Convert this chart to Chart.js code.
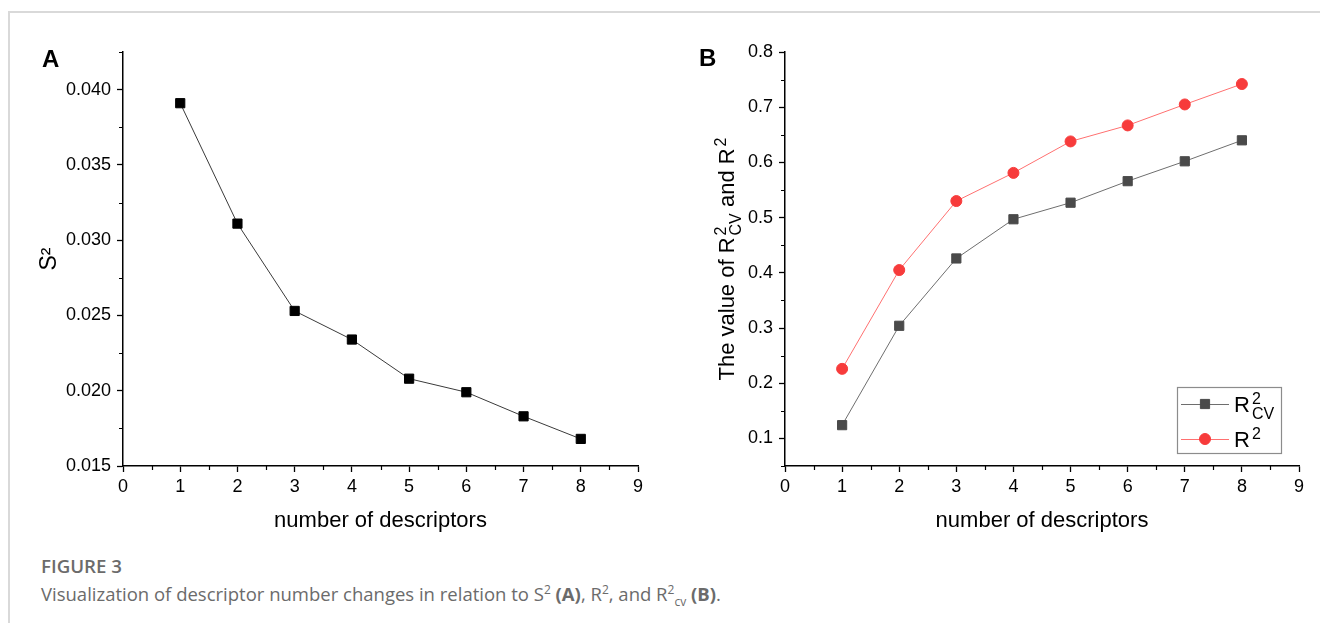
<!DOCTYPE html>
<html>
<head>
<meta charset="utf-8">
<script src="https://cdn.jsdelivr.net/npm/chart.js@4.4.1/dist/chart.umd.min.js"></script>
<style>
  html, body { margin: 0; padding: 0; background: #fff; }
  body { width: 1320px; height: 623px; overflow: hidden; position: relative; }
  #frame { position: absolute; left: 8px; top: 11px; width: 1330px; height: 640px;
           border-top: 2px solid #d9d9d9; border-left: 2px solid #d9d9d9; }
  .wrap { position: absolute; top: 0; width: 660px; height: 545px; }
  #wrapA { left: 0; }
  #wrapB { left: 660px; }
  #cap1 { position: absolute; left: 41px; top: 553px; font: 600 18.7px "Open Sans", sans-serif;
          color: #6b6b6b; white-space: nowrap; }
  #cap2 { position: absolute; left: 41px; top: 581px; font: 400 18.5px "Open Sans", sans-serif;
          color: #6b6b6b; white-space: nowrap; }
  #cap2 b { font-weight: 700; }
  #cap2 sup, #cap2 sub { font-size: 12px; line-height: 0; }
</style>
</head>
<body>
<div id="frame"></div>
<div class="wrap" id="wrapA"><canvas id="chartA" width="660" height="545"></canvas></div>
<div class="wrap" id="wrapB"><canvas id="chartB" width="660" height="545"></canvas></div>
<div id="cap1">FIGURE 3</div>
<div id="cap2">Visualization of descriptor number changes in relation to S<sup>2</sup> <b>(A)</b>, R<sup>2</sup>, and R<sup>2</sup><sub>cv</sub> <b>(B)</b>.</div>

<script>
// ---------------- data ----------------
const descriptorCounts = [1, 2, 3, 4, 5, 6, 7, 8];
const s2Values = [0.0391, 0.0311, 0.0253, 0.0234, 0.0208, 0.0199, 0.0183, 0.0168];
const r2cvValues = [0.124, 0.304, 0.426, 0.497, 0.527, 0.566, 0.602, 0.640];
const r2Values = [0.226, 0.405, 0.530, 0.581, 0.638, 0.667, 0.705, 0.742];
const seriesNames = ['R²CV', 'R²'];
const xTitle = 'number of descriptors';
const yTitleA = 'S²';
const panelLabels = ['A', 'B'];

// ---------------- helpers ----------------
const FONT = '"Liberation Sans", Arial, sans-serif';

function pts(xs, ys) { return xs.map((x, i) => ({ x: x, y: ys[i] })); }

function richWidth(ctx, parts, size, small) {
  let w = 0;
  parts.forEach(p => {
    if (p.t !== undefined) { ctx.font = size + 'px ' + FONT; w += ctx.measureText(p.t).width; }
    else {
      ctx.font = small + 'px ' + FONT;
      const a = p.sup ? ctx.measureText(p.sup).width : 0;
      const b = p.sub ? ctx.measureText(p.sub).width : 0;
      w += Math.max(a, b) + 2;
    }
  });
  return w;
}
function drawRich(ctx, parts, x, y, size, small) {
  let cx = x;
  parts.forEach(p => {
    if (p.t !== undefined) {
      ctx.font = size + 'px ' + FONT;
      ctx.fillText(p.t, cx, y);
      cx += ctx.measureText(p.t).width;
    } else {
      ctx.font = small + 'px ' + FONT;
      let a = 0, b = 0;
      if (p.sup) { ctx.fillText(p.sup, cx + 2, y - size * 0.38); a = ctx.measureText(p.sup).width + 2; }
      if (p.sub) { ctx.fillText(p.sub, cx + 2, y + size * 0.32); b = ctx.measureText(p.sub).width + 2; }
      cx += Math.max(a, b);
    }
  });
}
function richParts(name) {
  const m = name.match(/^([^²]*)²(.*)$/);
  if (!m) return [{ t: name }];
  const parts = [{ t: m[1] }];
  parts.push(m[2] ? { sup: '2', sub: m[2] } : { sup: '2' });
  return parts;
}

const minorTicks = {
  id: 'minorTicks',
  afterDraw(chart) {
    const ctx = chart.ctx;
    ctx.save();
    ctx.strokeStyle = '#000';
    ctx.lineWidth = 1.2;
    ['x', 'y'].forEach(id => {
      const s = chart.scales[id];
      const vals = s.ticks.map(t => t.value);
      if (vals.length < 2) return;
      const step = vals[1] - vals[0];
      const minors = [];
      for (let i = 0; i < vals.length - 1; i++) minors.push((vals[i] + vals[i + 1]) / 2);
      const lo = vals[0] - step / 2, hi = vals[vals.length - 1] + step / 2;
      const eps = step * 1e-6;
      if (lo >= s.min - eps) minors.push(lo);
      if (hi <= s.max + eps) minors.push(hi);
      ctx.beginPath();
      minors.forEach(v => {
        const p = Math.round(s.getPixelForValue(v)) + 0.5;
        if (id === 'x') { ctx.moveTo(p, s.top); ctx.lineTo(p, s.top + 4); }
        else { ctx.moveTo(s.right, p); ctx.lineTo(s.right - 4, p); }
      });
      ctx.stroke();
    });
    ctx.restore();
  }
};

const panelLabel = {
  id: 'panelLabel',
  afterDraw(chart, args, opts) {
    const ctx = chart.ctx;
    ctx.save();
    ctx.fillStyle = '#000';
    ctx.font = 'bold 24px ' + FONT;
    ctx.textBaseline = 'alphabetic';
    ctx.fillText(opts.text, opts.x, opts.y);
    ctx.restore();
  }
};

const richYTitle = {
  id: 'richYTitle',
  afterDraw(chart, args, opts) {
    if (!opts.parts) return;
    const ctx = chart.ctx;
    ctx.save();
    ctx.fillStyle = '#000';
    ctx.textBaseline = 'alphabetic';
    const ca = chart.chartArea;
    const cy = (ca.top + ca.bottom) / 2;
    const w = richWidth(ctx, opts.parts, opts.size, opts.small);
    ctx.translate(opts.x, cy);
    ctx.rotate(-Math.PI / 2);
    drawRich(ctx, opts.parts, -w / 2, opts.size * 0.36, opts.size, opts.small);
    ctx.restore();
  }
};

const richLegend = {
  id: 'richLegend',
  afterDraw(chart, args, opts) {
    if (!opts.display) return;
    const ctx = chart.ctx;
    ctx.save();
    const { left, top, width, height, rowGap, lineLen, size, small } = opts;
    ctx.strokeStyle = '#8c8c8c';
    ctx.lineWidth = 1.2;
    ctx.strokeRect(left + 0.5, top + 0.5, width, height);
    chart.data.datasets.forEach((ds, i) => {
      const y = top + opts.firstRow + i * rowGap;
      const x0 = left + 4;
      ctx.strokeStyle = ds.borderColor;
      ctx.lineWidth = ds.borderWidth;
      ctx.beginPath();
      ctx.moveTo(x0, y + 0.5); ctx.lineTo(x0 + lineLen, y + 0.5); ctx.stroke();
      ctx.fillStyle = ds.pointBackgroundColor;
      ctx.strokeStyle = ds.pointBorderColor;
      Chart.helpers.drawPoint(ctx, {
        pointStyle: ds.pointStyle, radius: ds.pointRadius, rotation: 0, borderWidth: 1
      }, x0 + lineLen / 2, y);
      ctx.fillStyle = '#000';
      ctx.textBaseline = 'alphabetic';
      drawRich(ctx, richParts(ds.label), x0 + lineLen + 5, y + size * 0.36, size, small);
    });
    ctx.restore();
  }
};

function axisCommon() {
  return {
    grid: { display: true, drawOnChartArea: false, drawTicks: true, tickLength: 6,
            tickColor: '#000', tickWidth: 1.3 },
    border: { display: true, color: '#000', width: 1.5 }
  };
}

function makeChart(canvasId, datasets, yOpts, extra) {
  const c = axisCommon();
  return new Chart(document.getElementById(canvasId), {
    type: 'line',
    data: { datasets: datasets },
    options: {
      responsive: false,
      animation: false,
      devicePixelRatio: 1,
      layout: { padding: extra.padding },
      plugins: {
        legend: { display: false },
        tooltip: { enabled: false },
        panelLabel: extra.panel,
        richYTitle: extra.yRich || {},
        richLegend: extra.legend || { display: false }
      },
      scales: {
        x: {
          type: 'linear', min: 0, max: 9,
          grid: c.grid, border: c.border,
          ticks: { stepSize: 1, color: '#000', padding: 4, font: { family: FONT, size: 18 },
                   maxRotation: 0, callback: v => String(v) },
          title: { display: true, text: xTitle, color: '#000',
                   font: { family: FONT, size: 22 }, padding: { top: 0, bottom: 11 } },
          afterFit: s => { s.height = 545 - 466; }
        },
        y: Object.assign({
          type: 'linear',
          grid: c.grid, border: c.border,
          afterFit: s => { s.width = extra.yWidth; }
        }, yOpts)
      }
    },
    plugins: [minorTicks, panelLabel, richYTitle, richLegend]
  });
}

// ---------------- Panel A ----------------
makeChart('chartA', [{
  label: 'S²',
  data: pts(descriptorCounts, s2Values),
  borderColor: '#3a3a3a', borderWidth: 1,
  pointStyle: 'rect', pointRadius: 6.5, pointBorderWidth: 1,
  pointBackgroundColor: '#000', pointBorderColor: '#000'
}], {
  min: 0.015, max: 0.0425,
  ticks: { stepSize: 0.005, includeBounds: false, color: '#000', padding: 6,
           font: { family: FONT, size: 18 }, callback: v => Number(v).toFixed(3) },
  title: { display: true, text: yTitleA, color: '#000',
           font: { family: FONT, size: 23 }, padding: { top: 36, bottom: 0 } }
}, {
  padding: { left: 0, right: 22, top: 52, bottom: 0 },
  yWidth: 123,
  panel: { text: panelLabels[0], x: 42, y: 67 },
});

// ---------------- Panel B ----------------
makeChart('chartB', [{
  label: seriesNames[0],
  data: pts(descriptorCounts, r2cvValues),
  borderColor: '#6e6e6e', borderWidth: 1,
  pointStyle: 'rect', pointRadius: 6.5, pointBorderWidth: 1,
  pointBackgroundColor: '#4a4a4a', pointBorderColor: '#4a4a4a'
}, {
  label: seriesNames[1],
  data: pts(descriptorCounts, r2Values),
  borderColor: '#ff7070', borderWidth: 1,
  pointStyle: 'circle', pointRadius: 5.5, pointBorderWidth: 1,
  pointBackgroundColor: '#f73b3b', pointBorderColor: '#f73b3b'
}], {
  min: 0.05, max: 0.8,
  ticks: { stepSize: 0.1, includeBounds: false, color: '#000', padding: 6,
           font: { family: FONT, size: 18 }, callback: v => Number(v).toFixed(1) },
  title: { display: false }
}, {
  padding: { left: 0, right: 21, top: 52, bottom: 0 },
  yWidth: 125,
  panel: { text: panelLabels[1], x: 39, y: 66 },
  yRich: { x: 66, size: 22, small: 16,
           parts: [{ t: 'The value of R' }, { sup: '2', sub: 'CV' }, { t: ' and R' }, { sup: '2' }] },
  legend: { display: true, left: 517, top: 387, width: 104, height: 66,
            firstRow: 17, rowGap: 35, lineLen: 48, size: 22, small: 16 }
});
</script>
</body>
</html>
